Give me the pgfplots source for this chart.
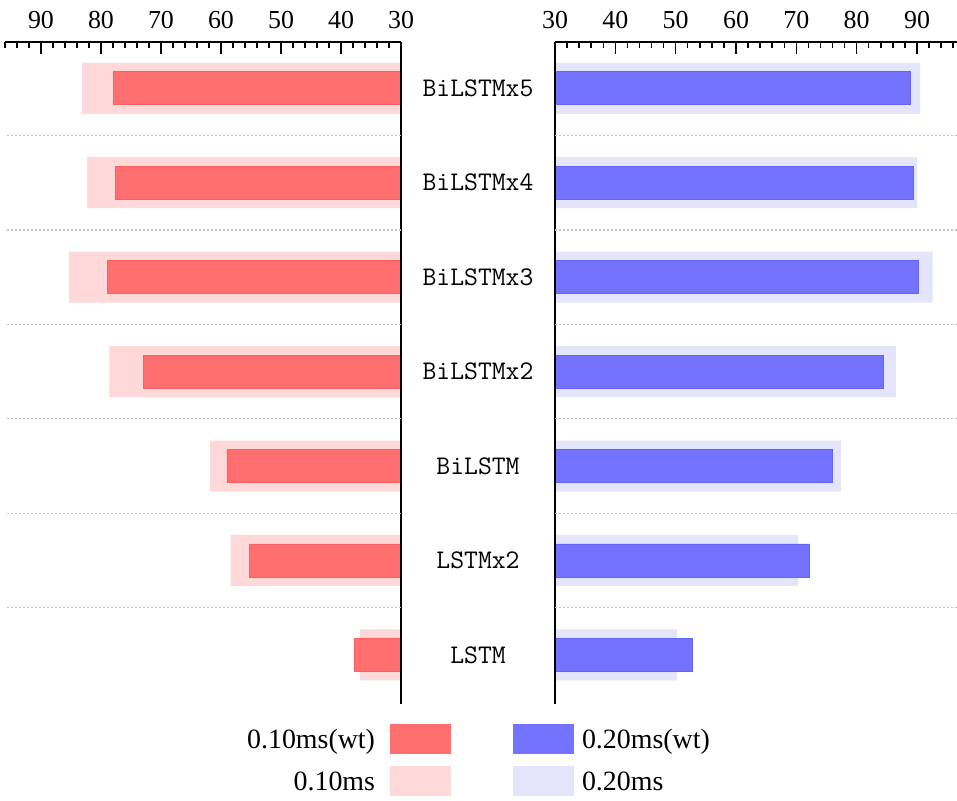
\documentclass[border=0pt]{standalone}
\usepackage{fontspec}
\setmainfont{Liberation Serif}
\usepackage{pgfplots}
\pgfplotsset{compat=1.18}
\usepackage{pgfplotstable}
\definecolor{rdark}{RGB}{255,111,111}
\definecolor{rdarkb}{RGB}{255,95,95}
\definecolor{rlight}{RGB}{255,217,217}
\definecolor{bdark}{RGB}{115,115,255}
\definecolor{bdarkb}{RGB}{100,100,250}
\definecolor{blight}{RGB}{228,228,250}
\definecolor{gridc}{RGB}{195,195,195}

\pgfplotstableread{
idx light dark
6 83.2 77.9
5 82.3 77.6
4 85.3 78.9
3 78.6 72.9
2 61.8 59.0
1 58.4 55.2
0 36.8 37.7
}\lefttab
\pgfplotstableread{
idx light dark
6 90.5 88.9
5 90.0 89.4
4 92.6 90.3
3 86.5 84.4
2 77.4 76.05
1 70.3 72.2
0 50.2 52.7
}\righttab

\pgfplotsset{
  halfaxis/.style={
    scale only axis, height=662bp,
    ymin=-0.52, ymax=6.49, xmin=30,
    axis x line*=top,
    axis on top,
    axis line style={line width=2bp, black},
    xtick={30,40,...,90}, minor xtick={30,32,...,96},
    major tick length=12bp, minor tick length=6bp,
    x tick style={line width=1.5bp, black},
    xticklabel shift=10bp,
    x tick label style={font=\fontsize{26}{28}\selectfont},
    /pgf/number format/assume math mode=true,
    ytick={0,1,...,6},
    y tick style={draw=none},
    extra y ticks={0.5,1.5,...,5.5},
    extra y tick labels={},
    extra y tick style={grid=major, major tick length=0pt},
    major grid style={gridc, dash pattern=on 2bp off 2bp, line width=1.4bp},
    legend image code/.code={\fill[draw=none,#1] (0bp,-14.5bp) rectangle (61bp,15.5bp);},
    legend style={draw=none, fill=none, inner sep=0pt, outer sep=0pt,
      row sep=12bp, font=\fontsize{28}{30}\selectfont,
      nodes={inner sep=0pt, outer sep=0pt}},
  }
}

\begin{document}
\begin{tikzpicture}[x=1bp,y=1bp]
\useasboundingbox (0,0) rectangle (957,801);
\begin{axis}[halfaxis,
  at={(5bp,97bp)}, anchor=south west,
  width=396bp, xmax=96, x dir=reverse,
  axis y line*=right,
  yticklabels={},
  legend plot pos=right, legend cell align=right,
  legend style={at={(1.1263,-0.0302)}, anchor=north east, column sep=15bp},
]
\addplot[xbar, bar shift=0pt, bar width=0.54, fill=rlight, draw=none, forget plot]
  table[x=light, y=idx] {\lefttab};
\addplot[xbar, bar shift=0pt, bar width=0.35, fill=rdark, draw=rdarkb, line width=0.8bp, forget plot]
  table[x=dark, y=idx] {\lefttab};
\addlegendimage{fill=rdark, draw=rdarkb}
\addlegendentry{0.10ms(wt)}
\addlegendimage{fill=rlight}
\addlegendentry{0.10ms}
\end{axis}

\begin{axis}[halfaxis,
  at={(555bp,97bp)}, anchor=south west,
  width=402bp, xmax=96.63,
  axis y line*=left,
  yticklabels={LSTM,LSTMx2,BiLSTM,BiLSTMx2,BiLSTMx3,BiLSTMx4,BiLSTMx5},
  yticklabel style={anchor=center, xshift=-77bp, font=\fontsize{27}{29}\selectfont\ttfamily},
  legend plot pos=left, legend cell align=left,
  legend style={at={(-0.1045,-0.0302)}, anchor=north west, column sep=8bp},
]
\addplot[xbar, bar shift=0pt, bar width=0.54, fill=blight, draw=none, forget plot]
  table[x=light, y=idx] {\righttab};
\addplot[xbar, bar shift=0pt, bar width=0.35, fill=bdark, draw=bdarkb, line width=0.8bp, forget plot]
  table[x=dark, y=idx] {\righttab};
\addlegendimage{fill=bdark, draw=bdarkb}
\addlegendentry{0.20ms(wt)}
\addlegendimage{fill=blight}
\addlegendentry{0.20ms}
\end{axis}
\end{tikzpicture}
\end{document}
